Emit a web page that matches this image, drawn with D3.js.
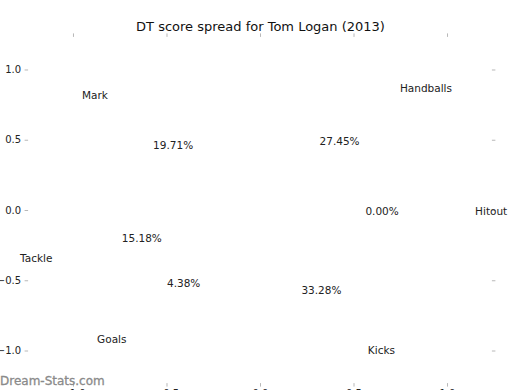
<!DOCTYPE html>
<html><head><meta charset="utf-8">
<script src="https://cdn.jsdelivr.net/npm/d3@7"></script>
<style>
body{margin:0;background:#fff;}
svg{display:block;font-family:"DejaVu Sans",sans-serif;}
</style></head>
<body>
<svg id="c" width="520" height="390"></svg>
<script>
const categories = ["Hitout","Handballs","Mark","Tackle","Goals","Kicks"];
const values = [0.00, 27.45, 19.71, 15.18, 4.38, 33.28];
const tickValues = [-1.0, -0.5, 0.0, 0.5, 1.0];
const chartTitle = "DT score spread for Tom Logan (2013)";
const watermark = "Dream-Stats.com";

(function(){
const svg = d3.select("#c");
const pLeft = 28.1, pRight = 491.9, pTop = 36.9, pBottom = 383.1;
const x = d3.scaleLinear().domain([-1.24, 1.24]).range([pLeft, pRight]);
const y = d3.scaleLinear().domain([-1.232, 1.232]).range([pBottom, pTop]);

const tickColor = "#b8b8b8";
const fmt = d3.format(".1f");
const fmtTick = v => fmt(v).replace("-", "\u2212");

function styleAxis(g, showLabels){
  g.select(".domain").remove();
  g.selectAll(".tick line").attr("stroke", tickColor).attr("stroke-width", 1);
  g.selectAll(".tick text").attr("fill", "#222").attr("font-size", 10)
   .attr("font-family", "DejaVu Sans").style("display", showLabels ? null : "none");
}
svg.append("g").attr("transform", `translate(${pLeft},0)`)
  .call(d3.axisLeft(y).tickValues(tickValues).tickSize(3.5).tickPadding(3.5).tickFormat(fmtTick))
  .call(g => styleAxis(g, true));
svg.append("g").attr("transform", `translate(${pRight},0)`)
  .call(d3.axisRight(y).tickValues(tickValues).tickSize(3.5).tickFormat(fmtTick))
  .call(g => styleAxis(g, false));
svg.append("g").attr("transform", `translate(0,${pTop})`)
  .call(d3.axisTop(x).tickValues(tickValues).tickSize(3.5).tickFormat(fmtTick))
  .call(g => styleAxis(g, false));
svg.append("g").attr("transform", `translate(0,${pBottom})`)
  .call(d3.axisBottom(x).tickValues(tickValues).tickSize(3.5).tickPadding(3.5).tickFormat(fmtTick))
  .call(g => styleAxis(g, true));

const pie = d3.pie().sort(null).value(d => d).startAngle(0).endAngle(2 * Math.PI);
const arcs = pie(values);
const explode = 0.05, labelDist = 1.1, pctDist = 0.6;

const g = svg.append("g");
arcs.forEach((a, i) => {
  const mid = (a.startAngle + a.endAngle) / 2;
  const cx = Math.cos(mid), cy = Math.sin(mid);
  const steps = 60, pts = [[x(explode*cx), y(explode*cy)]];
  for (let k = 0; k <= steps; k++) {
    const t = a.startAngle + (a.endAngle - a.startAngle) * k / steps;
    pts.push([x(explode*cx + Math.cos(t)), y(explode*cy + Math.sin(t))]);
  }
  g.append("path").attr("d", d3.line()(pts) + "Z").attr("fill", "#ffffff").attr("stroke", "none");

  const lx = (labelDist + explode) * cx, ly = (labelDist + explode) * cy;
  g.append("text").attr("x", x(lx) + (lx >= 0 ? 0 : -2)).attr("y", y(ly) + 1).attr("dy", "0.35em")
    .attr("text-anchor", lx >= 0 ? "start" : "end")
    .attr("font-size", 10.5).attr("fill", "#222").text(categories[i]);
  const px = (pctDist + explode) * cx, py = (pctDist + explode) * cy;
  g.append("text").attr("x", x(px) + (px >= 0 ? 0.5 : -2)).attr("y", y(py) + 1).attr("dy", "0.35em")
    .attr("text-anchor", "middle")
    .attr("font-size", 10.5).attr("fill", "#222").text(values[i].toFixed(2) + "%");
});

svg.append("text").attr("x", 0).attr("y", 384.5).attr("font-size", 12)
  .attr("fill", "#8a8a8a").attr("stroke", "#8a8a8a").attr("stroke-width", 0.3)
  .attr("font-weight", "normal").text(watermark);
svg.append("text").attr("x", 260.5).attr("y", 31).attr("text-anchor", "middle")
  .attr("font-size", 13).attr("fill", "#111").text(chartTitle);
})();
</script>
</body></html>
